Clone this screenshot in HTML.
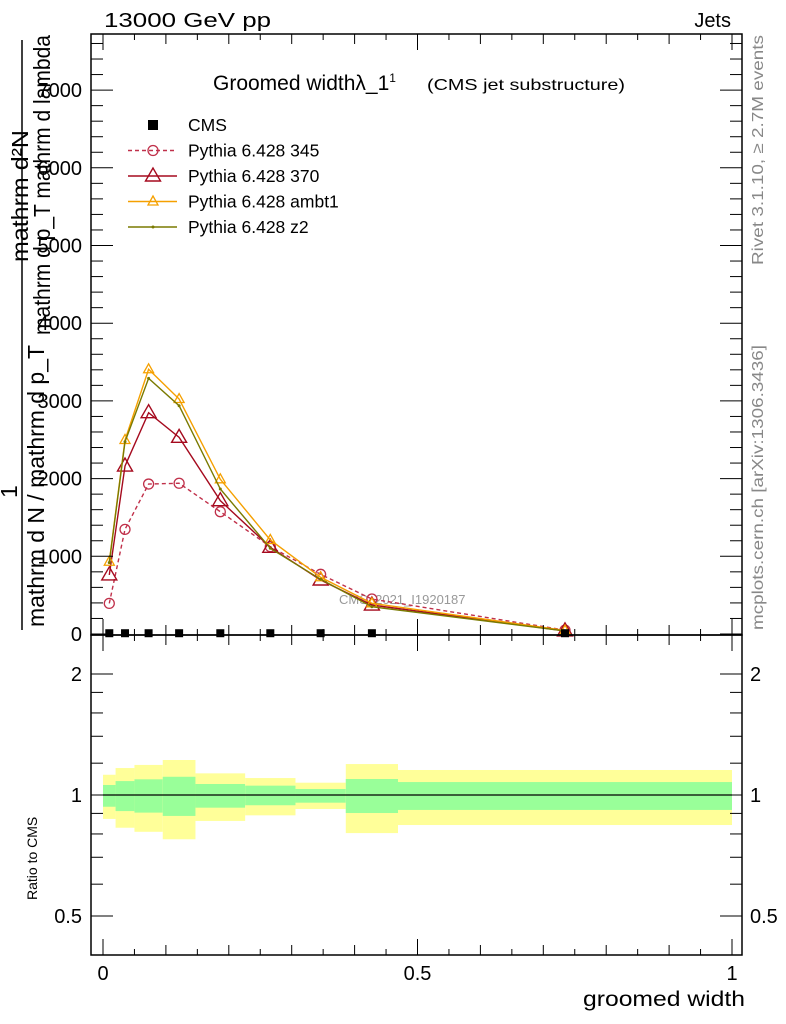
<!DOCTYPE html>
<html><head><meta charset="utf-8"><style>
body{margin:0;background:#fff;}
svg{display:block;font-family:"Liberation Sans",sans-serif;}
</style></head><body>
<svg id="chart" width="786" height="1024" viewBox="0 0 786 1024" xmlns="http://www.w3.org/2000/svg">
<text x="104" y="27" font-size="20" textLength="167" lengthAdjust="spacingAndGlyphs">13000 GeV pp</text>
<text x="731" y="27" font-size="20" text-anchor="end">Jets</text>
<text transform="translate(763,265) rotate(-90)" font-size="16" fill="#888" textLength="230" lengthAdjust="spacingAndGlyphs">Rivet 3.1.10, ≥ 2.7M events</text>
<text transform="translate(763,630) rotate(-90)" font-size="16" fill="#888" textLength="285" lengthAdjust="spacingAndGlyphs">mcplots.cern.ch [arXiv:1306.3436]</text>
<text x="213" y="90" font-size="21">Groomed width<tspan>λ_1</tspan><tspan font-size="12" dy="-8">1</tspan></text>
<text x="427" y="90" font-size="16" textLength="198" lengthAdjust="spacingAndGlyphs">(CMS jet substructure)</text>
<g id="ylabel" font-size="23">
<text transform="translate(28,262) rotate(-90)" textLength="132" lengthAdjust="spacingAndGlyphs">mathrm d²N</text>
<line x1="22" y1="40" x2="22" y2="630" stroke="#000" stroke-width="1.5"/>
<text transform="translate(50,335) rotate(-90)" textLength="300" lengthAdjust="spacingAndGlyphs">mathrm d p_T mathrm d lambda</text>
<text transform="translate(17,498) rotate(-90)">1</text>
<text transform="translate(44,627) rotate(-90)" textLength="282" lengthAdjust="spacingAndGlyphs">mathrm d N / mathrm d p_T</text>
</g>
<text transform="translate(37,900) rotate(-90)" font-size="14">Ratio to CMS</text>
<text x="745" y="1006" font-size="21" text-anchor="end" textLength="162" lengthAdjust="spacingAndGlyphs">groomed width</text>
<text x="339" y="604" font-size="13" fill="#999">CMS_2021_I1920187</text>
<g id="legend" font-size="17.5"></g>
<g id="main"></g>
<g id="ratio"></g>
<g id="axes"></g>
</svg>
<script>
const NS="http://www.w3.org/2000/svg";
const binEdges=[0,0.02,0.05,0.095,0.147,0.226,0.306,0.386,0.469,1.0];
const cmsVals=[10,10,10,10,10,10,10,10,10];
const p345=[394,1347,1930,1940,1574,1124,768,450,50];
const p370=[760,2162,2848,2531,1716,1116,695,373,40];
const pAmbt1=[930,2497,3407,3024,1991,1210,730,395,45];
const pZ2=[918,2475,3290,2938,1866,1103,704,351,40];
const yellowHi=[1.123,1.167,1.188,1.222,1.132,1.102,1.073,1.194,1.154];
const yellowLo=[0.872,0.829,0.81,0.776,0.862,0.89,0.923,0.804,0.842];
const greenHi=[1.059,1.083,1.094,1.11,1.065,1.055,1.035,1.096,1.077];
const greenLo=[0.935,0.912,0.904,0.887,0.93,0.943,0.957,0.902,0.918];
const mainYTicks=[0,1000,2000,3000,4000,5000,6000,7000];
const ratioYTicks=[0.5,1,2];
const xTicks=[0,0.5,1];

const L=91,R=742,T=34,MB=635,RB=955;
const xs=v=>103+629*v;
const ys=v=>634-0.0777*v;
const yr=r=>795-121*Math.log2(r);
function mk(tag,attrs,parent){const e=document.createElementNS(NS,tag);for(const k in attrs)e.setAttribute(k,attrs[k]);parent.appendChild(e);return e;}
const main=document.getElementById('main'),ratio=document.getElementById('ratio'),axes=document.getElementById('axes'),legend=document.getElementById('legend');
const centers=binEdges.slice(0,-1).map((e,i)=>(e+binEdges[i+1])/2);

for(let i=0;i<centers.length;i++){
 const x0=xs(binEdges[i]),x1=xs(binEdges[i+1]);
 const y=mk('rect',{x:x0,y:yr(yellowHi[i]),width:x1-x0,height:yr(yellowLo[i])-yr(yellowHi[i]),fill:'#ffff99'},ratio);
 
 
 const g=mk('rect',{x:x0,y:yr(greenHi[i]),width:x1-x0,height:yr(greenLo[i])-yr(greenHi[i]),fill:'#99ff99'},ratio);
 
 
}
const rl=mk('line',{x1:xs(0),x2:xs(1),y1:yr(1),y2:yr(1),stroke:'#000','stroke-width':1.2},ratio);



const series=[
 {d:p345,c:'#c0304a',dash:'4,3',m:'circle',n:'series-pythia-345'},
 {d:p370,c:'#a50a1e',dash:'',m:'bigtri',n:'series-pythia-370'},
 {d:pAmbt1,c:'#f5a000',dash:'',m:'tri',n:'series-pythia-ambt1'},
 {d:pZ2,c:'#7a7a00',dash:'',m:'dot',n:'series-pythia-z2'}];
function marker(m,x,y,c,p){
 let e;
 if(m==='circle')e=mk('circle',{cx:x,cy:y,r:5,fill:'none',stroke:c,'stroke-width':1.3},p);
 else if(m==='bigtri')e=mk('polygon',{points:`${x},${y-8} ${x-7.5},${y+5} ${x+7.5},${y+5}`,fill:'none',stroke:c,'stroke-width':1.4},p);
 else if(m==='tri')e=mk('polygon',{points:`${x},${y-5.5} ${x-5},${y+3.5} ${x+5},${y+3.5}`,fill:'none',stroke:c,'stroke-width':1.3},p);
 else e=mk('circle',{cx:x,cy:y,r:1.5,fill:c},p);
 return e;
}
series.forEach(s=>{
 const g=mk('g',{},main);
 
 
 const pl=mk('polyline',{points:s.d.map((v,i)=>xs(centers[i])+','+ys(v)).join(' '),fill:'none',stroke:s.c,'stroke-width':1.4,'stroke-dasharray':s.dash},g);
 
 
 s.d.forEach((v,i)=>{const e=marker(s.m,xs(centers[i]),ys(v),s.c,g);
  
  });
});
cmsVals.forEach((v,i)=>{
 const e=mk('rect',{x:xs(centers[i])-4,y:ys(v)-4,width:8,height:8,fill:'#000'},main);
 
 
});

const leg=[{t:'CMS',m:'sq',c:'#000'},{t:'Pythia 6.428 345',m:'circle',c:'#c0304a',dash:'4,3'},{t:'Pythia 6.428 370',m:'bigtri',c:'#a50a1e'},{t:'Pythia 6.428 ambt1',m:'tri',c:'#f5a000'},{t:'Pythia 6.428 z2',m:'dot',c:'#7a7a00'}];
leg.forEach((l,i)=>{
 const y=125+25.5*i;
 const g=mk('g',{},legend);
 
 
 if(l.m==='sq'){mk('rect',{x:148,y:y-5,width:10,height:10,fill:'#000'},g);}
 else{mk('line',{x1:128,x2:177,y1:y,y2:y,stroke:l.c,'stroke-width':1.4,'stroke-dasharray':l.dash||''},g);marker(l.m,153,y,l.c,g);}
 const t=mk('text',{x:188,y:y+6},g);t.textContent=l.t;
});

[[T,MB],[MB,RB]].forEach(([a,b],k)=>{
 const r=mk('rect',{x:L,y:a,width:R-L,height:b-a,fill:'none',stroke:'#000','stroke-width':1.5},axes);
 
 
});
for(let k=0;k<=20;k++){const v=k*0.05,x=xs(v);const len=k%10===0?16:(k%2===0?10:6);
 [[MB,0],[RB,0],[T,1]].forEach(([yb,up])=>{
  const s=up?1:-1;mk('line',{x1:x,x2:x,y1:yb,y2:yb+s*len,stroke:'#000','stroke-width':1},axes);
  if(yb===MB)mk('line',{x1:x,x2:x,y1:yb,y2:yb+len,stroke:'#000','stroke-width':1},axes);
 });}
xTicks.forEach(v=>{const t=mk('text',{x:xs(v),y:980,'font-size':20,'text-anchor':'middle'},axes);t.textContent=String(v);
 });
for(let v=0;v<=7600;v+=200){const y=ys(v);if(y<T)break;const len=v%1000===0?22:12;
 mk('line',{x1:L,x2:L+len,y1:y,y2:y,stroke:'#000'},axes);mk('line',{x1:R,x2:R-len,y1:y,y2:y,stroke:'#000'},axes);}
mainYTicks.forEach(v=>{const t=mk('text',{x:82,y:ys(v)+7,'font-size':20,'text-anchor':'end'},axes);t.textContent=String(v);
 });
[0.5,0.6,0.7,0.8,0.9,1,1.2,1.4,1.6,1.8,2].forEach(v=>{const y=yr(v);const len=ratioYTicks.includes(v)?22:12;
 mk('line',{x1:L,x2:L+len,y1:y,y2:y,stroke:'#000'},axes);mk('line',{x1:R,x2:R-len,y1:y,y2:y,stroke:'#000'},axes);});
ratioYTicks.forEach(v=>{[[82,'end'],[750,'start']].forEach(([x,a])=>{const t=mk('text',{x:x,y:yr(v)+7,'font-size':20,'text-anchor':a},axes);t.textContent=String(v);
 });});
</script>
</body></html>
